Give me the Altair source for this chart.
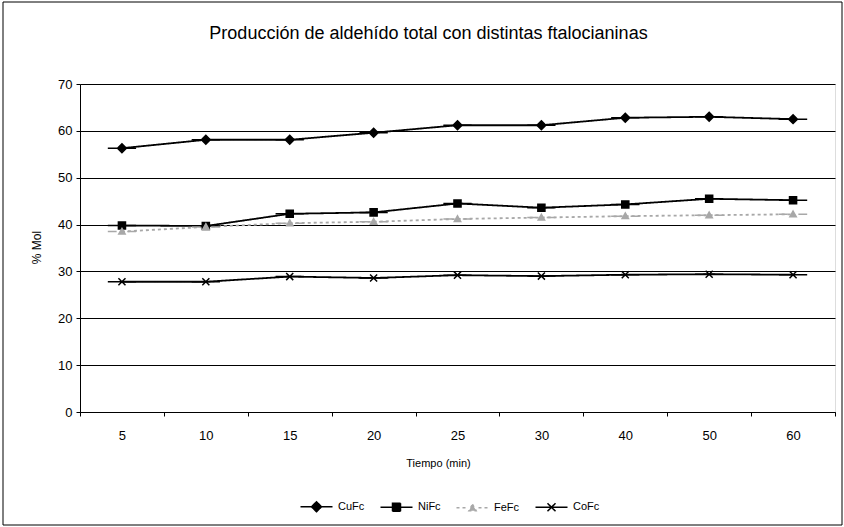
import altair as alt
import pandas as pd

tiempo = ["5", "10", "15", "20", "25", "30", "40", "50", "60"]
series = ["CuFc", "NiFc", "FeFc", "CoFc"]
cufc = [56.3, 58.1, 58.1, 59.6, 61.2, 61.2, 62.8, 63.0, 62.5]
nifc = [39.8, 39.7, 42.3, 42.6, 44.5, 43.6, 44.3, 45.5, 45.2]
fefc = [38.5, 39.5, 40.3, 40.6, 41.2, 41.5, 41.8, 42.0, 42.2]
cofc = [27.8, 27.8, 28.9, 28.6, 29.2, 29.0, 29.3, 29.4, 29.3]

colors = ["black", "black", "#a8a8a8", "black"]
dashes = [[1, 0], [1, 0], [3, 3], [1, 0]]
shapes = [
    "M-4,0L4,0M0,-1.25L1.25,0L0,1.25L-1.25,0Z",
    "M-4,0L4,0M-1,-1L1,-1L1,1L-1,1Z",
    "M-4,0L-1.5,0M1.5,0L4,0M0,-0.9L0.9,0.7L-0.9,0.7Z",
    "M-4,0L4,0M-1,-1L1,1M1,-1L-1,1",
]

rows = []
for name, vals in zip(series, [cufc, nifc, fefc, cofc]):
    for t, v in zip(tiempo, vals):
        rows.append({"Tiempo": t, "Serie": name, "Mol": v})
df = pd.DataFrame(rows)

FONT = "Liberation Sans"

x_enc = alt.X(
    "Tiempo:O",
    sort=tiempo,
    bandPosition=0.5,
    scale=alt.Scale(type="band", paddingInner=0, paddingOuter=0),
    axis=alt.Axis(
        title="Tiempo (min)",
        labelAngle=0,
        tickBand="extent",
        grid=False,
        domainColor="black",
        tickColor="black",
        tickSize=4,
        labelPadding=13,
        labelFontSize=13,
        labelFont=FONT,
        labelColor="black",
        titleFont=FONT,
        titleFontSize=11,
        titleFontWeight="normal",
        titleColor="black",
        titleX=358,
        titleY=45,
    ),
)
y_enc = alt.Y(
    "Mol:Q",
    scale=alt.Scale(domain=[0, 70], nice=False),
    axis=alt.Axis(
        title="% Mol",
        values=[0, 10, 20, 30, 40, 50, 60, 70],
        grid=True,
        gridColor="black",
        gridOpacity=1,
        gridWidth=1,
        domainColor="black",
        tickColor="black",
        tickSize=4,
        labelPadding=4,
        labelFontSize=13,
        labelFont=FONT,
        labelColor="black",
        titleFont=FONT,
        titleFontSize=12,
        titleFontWeight="normal",
        titleColor="black",
        titleX=-37,
        titleY=163,
    ),
)

legend = alt.Legend(
    title=None,
    orient="none",
    legendX=231,
    legendY=417,
    direction="horizontal",
    labelOffset=16,
    columnPadding=12,
    symbolSize=64,
    symbolStrokeWidth=1.5,
    labelFont=FONT,
    labelFontSize=11,
    labelColor="black",
    padding=0,
)

lines = alt.Chart(df).mark_line(strokeWidth=1.8).encode(
    x=x_enc,
    y=y_enc,
    color=alt.Color("Serie:N", scale=alt.Scale(domain=series, range=colors), legend=legend),
    strokeDash=alt.StrokeDash("Serie:N", scale=alt.Scale(domain=series, range=dashes), legend=legend),
)

points = alt.Chart(df).mark_point(
    filled=True, size=50, strokeWidth=1.5, opacity=1
).encode(
    x=x_enc,
    y=y_enc,
    shape=alt.Shape("Serie:N", scale=alt.Scale(domain=series, range=shapes), legend=legend),
    fill=alt.Fill("Serie:N", scale=alt.Scale(domain=series, range=colors), legend=legend),
    stroke=alt.Stroke("Serie:N", scale=alt.Scale(domain=series, range=colors), legend=legend),
)

border = alt.Chart(alt.Data(values=[{}])).mark_rect(
    fill="transparent", stroke="black", strokeWidth=1
).encode(
    x=alt.value(-77), x2=alt.value(762), y=alt.value(-82), y2=alt.value(441)
)

chart = alt.layer(lines, points, border).properties(
    width=755,
    height=328,
    padding={"left": 80, "top": 84, "right": 9, "bottom": 115},
    autosize=alt.AutoSizeParams(type="none"),
    title=alt.TitleParams(
        "Producción de aldehído total con distintas ftalocianinas",
        font=FONT,
        fontSize=18,
        fontWeight="normal",
        color="black",
        frame="group",
        offset=-41,
        dx=-29,
    ),
).configure_view(stroke="black", strokeWidth=1).configure(background="white")

chart.save("out.html", embed_options={"renderer": "svg", "actions": False})
